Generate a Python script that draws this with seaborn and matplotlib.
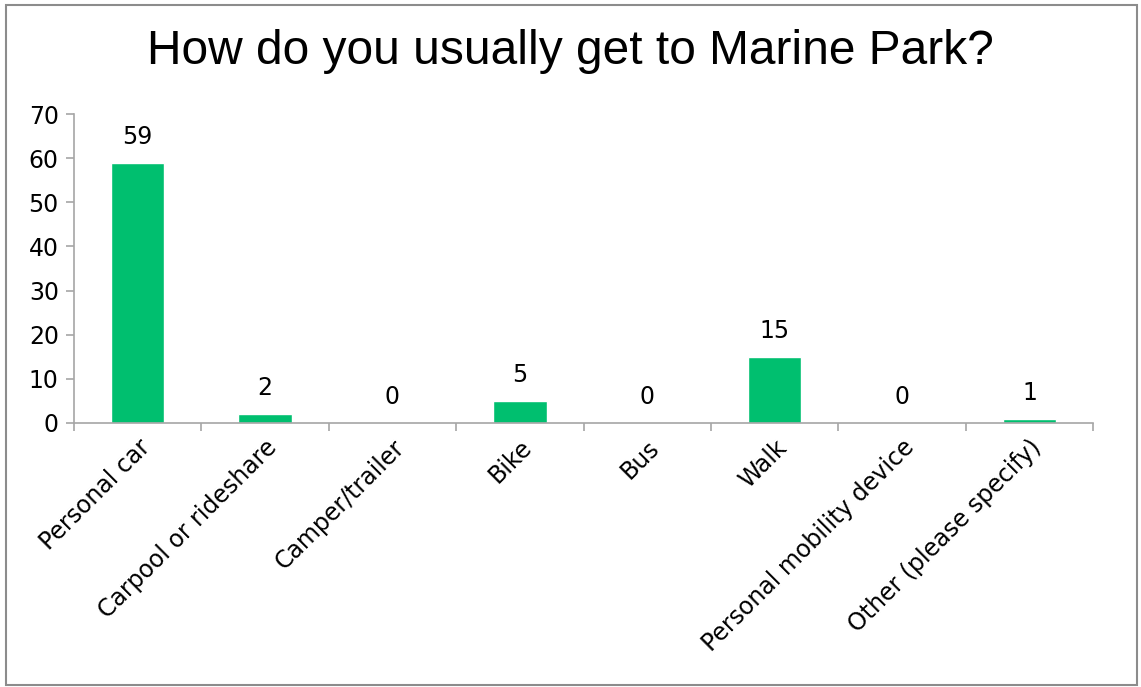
import matplotlib
matplotlib.use("Agg")
import matplotlib.pyplot as plt
import seaborn as sns
import pandas as pd
from matplotlib.patches import Rectangle
from matplotlib.ticker import FixedLocator

categories = ["Personal car", "Carpool or rideshare", "Camper/trailer", "Bike", "Bus",
              "Walk", "Personal mobility device", "Other (please specify)"]
values = [59, 2, 0, 5, 0, 15, 0, 1]
yticks = [0, 10, 20, 30, 40, 50, 60, 70]
title = "How do you usually get to Marine Park?"

sns.set_theme(style="white")
plt.rcParams["font.family"] = ["DejaVu Sans"]

df = pd.DataFrame({"cat": categories, "val": values})

fig = plt.figure(figsize=(11.41, 6.87), dpi=100)
ax = fig.add_axes([0.0649, 0.3843, 0.958 - 0.0649, 0.834 - 0.3843])

sns.barplot(data=df, x="cat", y="val", color="#00BF6F", saturation=1, width=0.42, ax=ax)

for c in ax.containers:
    ax.bar_label(c, labels=[str(v) for v in values], padding=10, fontsize=17, color="black")

axis_col = "#A6A6A6"
ax.set_xlim(-0.5, len(categories) - 0.5)
ax.set_ylim(0, 70)
ax.set_yticks(yticks)
ax.set_yticklabels([str(t) for t in yticks], fontsize=17, color="black")
ax.set_xticks(range(len(categories)))
ax.set_xticklabels(categories, rotation=45, ha="right", rotation_mode="anchor",
                   fontsize=17, color="black")
ax.xaxis.set_minor_locator(FixedLocator([i - 0.5 for i in range(len(categories) + 1)]))
ax.tick_params(axis="x", which="major", length=0, pad=9)
ax.tick_params(axis="x", which="minor", length=6, width=1.2, color=axis_col, direction="out", bottom=True)
ax.tick_params(axis="y", which="major", length=6, width=1.2, color=axis_col, direction="out", left=True, pad=5)
ax.set_xlabel("")
ax.set_ylabel("")
for s in ["top", "right"]:
    ax.spines[s].set_visible(False)
for s in ["left", "bottom"]:
    ax.spines[s].set_color(axis_col)
    ax.spines[s].set_linewidth(1.2)

fig.text(0.5, 1 - 52 / 687, title, ha="center", va="center", fontsize=34.5,
         family="Liberation Sans", color="black")

fig.patches.append(Rectangle((6 / 1141, 2 / 687), (1137 - 6) / 1141, (682 - 2) / 687,
                             transform=fig.transFigure, fill=False, edgecolor="#8C8C8C",
                             linewidth=1.5))

fig.savefig("out.png", dpi=100)
